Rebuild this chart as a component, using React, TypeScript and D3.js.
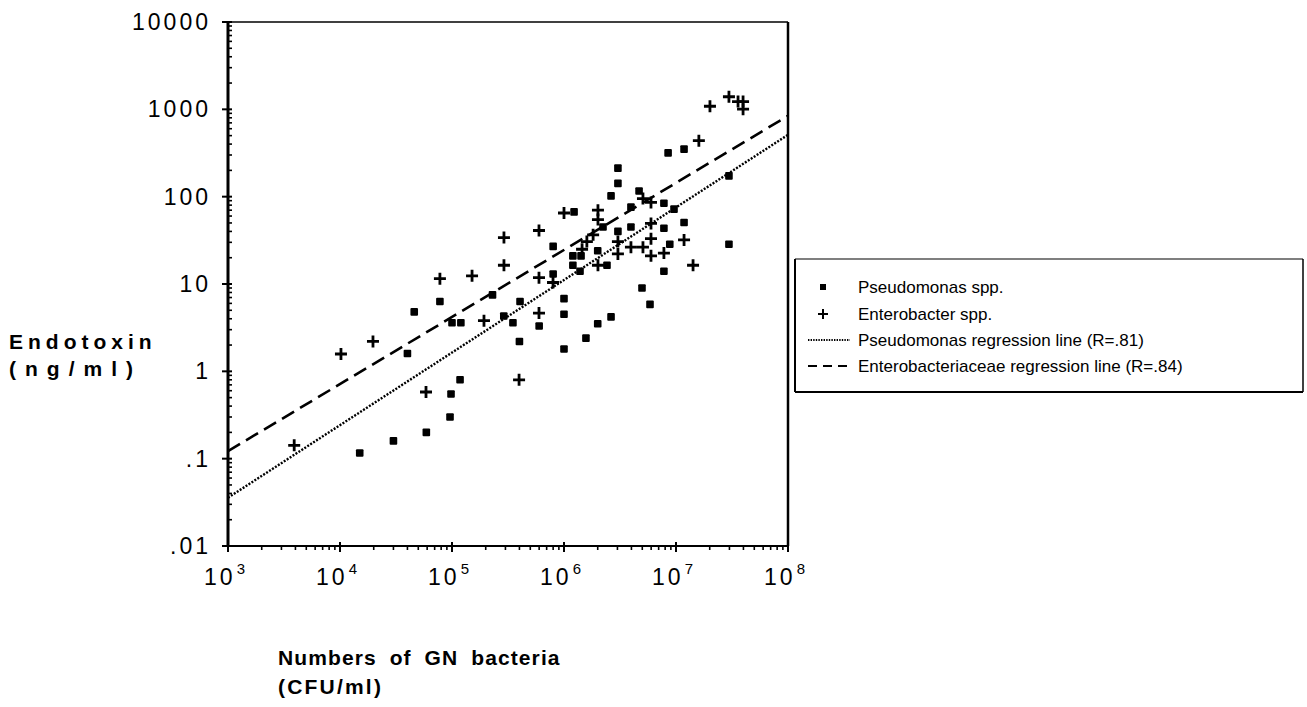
import * as d3 from "d3";
import React from "react";

// Pseudomonas spp. (CFU/ml, ng/ml)
const pseudoCfu = [
  1.5e4, 3.0e4, 5.9e4, 9.6e4, 9.8e4, 1.18e5, 4.0e4, 4.6e4, 7.8e4, 1.0e5, 1.2e5,
  2.3e5, 2.9e5, 3.5e5, 4.05e5, 4.0e5, 6.0e5, 8.0e5, 8.0e5, 1.0e6, 1.0e6, 1.0e6,
  1.23e6, 1.2e6, 1.42e6, 1.2e6, 1.39e6, 2.0e6, 2.23e6, 2.42e6, 2.63e6, 2.0e6,
  1.57e6, 2.63e6, 3.03e6, 3.03e6, 3.03e6, 3.96e6, 3.96e6, 4.68e6, 4.97e6, 5.86e6,
  7.8e6, 7.8e6, 7.8e6, 8.5e6, 8.8e6, 9.6e6, 1.18e7, 1.18e7, 2.97e7, 2.97e7,
];
const pseudoEndo = [
  0.116, 0.16, 0.2, 0.3, 0.55, 0.8, 1.6, 4.8, 6.3, 3.6, 3.6,
  7.5, 4.3, 3.6, 6.3, 2.2, 3.3, 13, 27, 6.8, 4.5, 1.8,
  67, 21, 21, 16.4, 14, 24, 45, 16.4, 4.2, 3.5,
  2.4, 102, 212, 142, 40, 76, 45, 116, 9.0, 5.85,
  84, 43.5, 14, 317, 28.5, 72, 350, 50.6, 173, 28.5,
];

// Enterobacter spp.
const enteroCfu = [
  3.9e3, 1.02e4, 1.97e4, 5.86e4, 7.8e4, 1.51e5, 1.93e5, 2.91e5, 2.91e5, 3.97e5,
  5.98e5, 5.98e5, 5.98e5, 7.98e5, 1.0e6, 1.82e6, 1.6e6, 1.45e6, 2.01e6, 2.01e6,
  2.01e6, 3.03e6, 3.03e6, 3.96e6, 5.07e6, 5.07e6, 5.98e6, 5.98e6, 5.98e6, 5.98e6,
  7.8e6, 1.18e7, 1.42e7, 1.6e7, 2.01e7, 2.97e7, 3.58e7, 3.97e7, 3.97e7,
];
const enteroEndo = [
  0.142, 1.58, 2.2, 0.58, 11.5, 12.4, 3.8, 34, 16.4, 0.8,
  41, 11.8, 4.65, 10.4, 65, 36.6, 30.6, 25, 70, 54.6,
  16.4, 30.6, 22.1, 26.4, 26.4, 95, 86, 49.4, 33, 21,
  22.6, 32, 16.4, 438, 1084, 1393, 1227, 1227, 1005,
];

// regression lines, end points at 10^3 and 10^8
const pseudoLine = [
  [1e3, 0.0357],
  [1e8, 511],
];
const enteroLine = [
  [1e3, 0.122],
  [1e8, 843],
];

const xExponents = [3, 4, 5, 6, 7, 8];
const yTickLabels = ["10000", "1000", "100", "10", "1", ".1", ".01"];
const yTickValues = [1e4, 1e3, 100, 10, 1, 0.1, 0.01];
const legendLabels = [
  "Pseudomonas spp.",
  "Enterobacter spp.",
  "Pseudomonas regression line (R=.81)",
  "Enterobacteriaceae regression line (R=.84)",
];

const FONT = "'Liberation Sans', Arial, Helvetica, sans-serif";

const isDecade = (v: number) => {
  const l = Math.log10(v);
  return Math.abs(l - Math.round(l)) < 1e-6;
};

export default function App() {
  const left = 228;
  const right = 788;
  const top = 22;
  const bottom = 546;

  const x = d3.scaleLog().domain([1e3, 1e8]).range([left, right]);
  const y = d3.scaleLog().domain([0.01, 1e4]).range([bottom, top]);

  const line = d3
    .line<number[]>()
    .x((d) => x(d[0]))
    .y((d) => y(d[1]));

  const plus = (cx: number, cy: number, k: string) => (
    <path
      key={k}
      d={`M${cx - 6},${cy}H${cx + 6}M${cx},${cy - 6}V${cy + 6}`}
      stroke="#000"
      strokeWidth={2.8}
    />
  );
  const square = (cx: number, cy: number, k: string) => (
    <rect key={k} x={cx - 3.8} y={cy - 3.8} width={7.6} height={7.6} rx={1} fill="#000" />
  );

  // legend
  const lgX = 795;
  const lgTop = 259;
  const lgBottom = 392;
  const lgRight = 1303;
  const lgRows = [287, 314, 340, 366];

  return (
    <svg
      width={1307}
      height={707}
      style={{ position: "absolute", left: 0, top: 0, background: "#fff" }}
      fontFamily={FONT}
    >
      {/* frame */}
      <line x1={left} x2={right} y1={top} y2={top} stroke="#000" strokeWidth={1.5} />
      <line x1={right} x2={right} y1={top} y2={bottom} stroke="#000" strokeWidth={2.5} />
      <line x1={left} x2={left} y1={top} y2={bottom + 1} stroke="#000" strokeWidth={3} />
      <line x1={left - 1} x2={right + 1} y1={bottom} y2={bottom} stroke="#000" strokeWidth={2.2} />

      {/* y ticks */}
      {y.ticks().map((v, i) =>
        isDecade(v) ? (
          <line key={"yt" + i} x1={left - 6} x2={left + 4} y1={y(v)} y2={y(v)} stroke="#000" strokeWidth={2} />
        ) : (
          <line key={"yt" + i} x1={left} x2={left + 4} y1={y(v)} y2={y(v)} stroke="#000" strokeWidth={1.6} />
        )
      )}
      {yTickValues.map((v, i) => (
        <text key={"yl" + i} x={211} y={y(v) + 8} fontSize={23} textAnchor="end" letterSpacing={3}>
          {yTickLabels[i]}
        </text>
      ))}

      {/* x ticks */}
      {x.ticks().map((v, i) =>
        isDecade(v) ? (
          <line key={"xt" + i} x1={x(v)} x2={x(v)} y1={bottom - 4} y2={bottom + 6} stroke="#000" strokeWidth={2} />
        ) : (
          <line key={"xt" + i} x1={x(v)} x2={x(v)} y1={bottom} y2={bottom + 4} stroke="#000" strokeWidth={1.6} />
        )
      )}
      {xExponents.map((e) => (
        <text key={"xl" + e} x={x(Math.pow(10, e)) - 2} y={bottom + 39} fontSize={23} textAnchor="middle" letterSpacing={3}>
          10
          <tspan dy={-11} fontSize={15} dx={1}>
            {e}
          </tspan>
        </text>
      ))}

      {/* axis titles */}
      <text x={9} y={349} fontSize={21} fontWeight="bold" letterSpacing={5}>
        Endotoxin
      </text>
      <text x={9} y={376} fontSize={21} fontWeight="bold" letterSpacing={9}>
        (ng/ml)
      </text>
      <text x={278} y={665} fontSize={21} fontWeight="bold" letterSpacing={1.1} wordSpacing={6}>
        Numbers of GN bacteria
      </text>
      <text x={278} y={694} fontSize={21} fontWeight="bold" letterSpacing={2.2}>
        (CFU/ml)
      </text>

      {/* regression lines */}
      <path d={line(enteroLine) || ""} fill="none" stroke="#000" strokeWidth={2.6} strokeDasharray="14 7" />
      <path d={line(pseudoLine) || ""} fill="none" stroke="#000" strokeWidth={2.4} strokeDasharray="2 1.5" />

      {/* points */}
      {pseudoCfu.map((c, i) => square(x(c), y(pseudoEndo[i]), "p" + i))}
      {enteroCfu.map((c, i) => plus(x(c), y(enteroEndo[i]), "e" + i))}

      {/* legend */}
      <line x1={lgX} x2={lgRight} y1={lgTop} y2={lgTop} stroke="#000" strokeWidth={1.2} />
      <line x1={lgX} x2={lgRight} y1={lgBottom} y2={lgBottom} stroke="#000" strokeWidth={2} />
      <line x1={lgX} x2={lgX} y1={lgTop} y2={lgBottom} stroke="#000" strokeWidth={2} />
      <line x1={lgRight} x2={lgRight} y1={lgTop} y2={lgBottom} stroke="#000" strokeWidth={1.5} />
      <rect x={820} y={lgRows[0] - 3} width={6} height={6} fill="#000" />
      <path d={`M${818},${lgRows[1]}H${828}M${823},${lgRows[1] - 5}V${lgRows[1] + 5}`} stroke="#000" strokeWidth={2} />
      <line x1={808} x2={850} y1={lgRows[2]} y2={lgRows[2]} stroke="#000" strokeWidth={1.8} strokeDasharray="1.4 1.2" />
      <line x1={808} x2={851} y1={lgRows[3]} y2={lgRows[3]} stroke="#000" strokeWidth={1.8} strokeDasharray="9 6" />
      {legendLabels.map((t, i) => (
        <text key={"lg" + i} x={858} y={lgRows[i] + 6} fontSize={17}>
          {t}
        </text>
      ))}
    </svg>
  );
}
